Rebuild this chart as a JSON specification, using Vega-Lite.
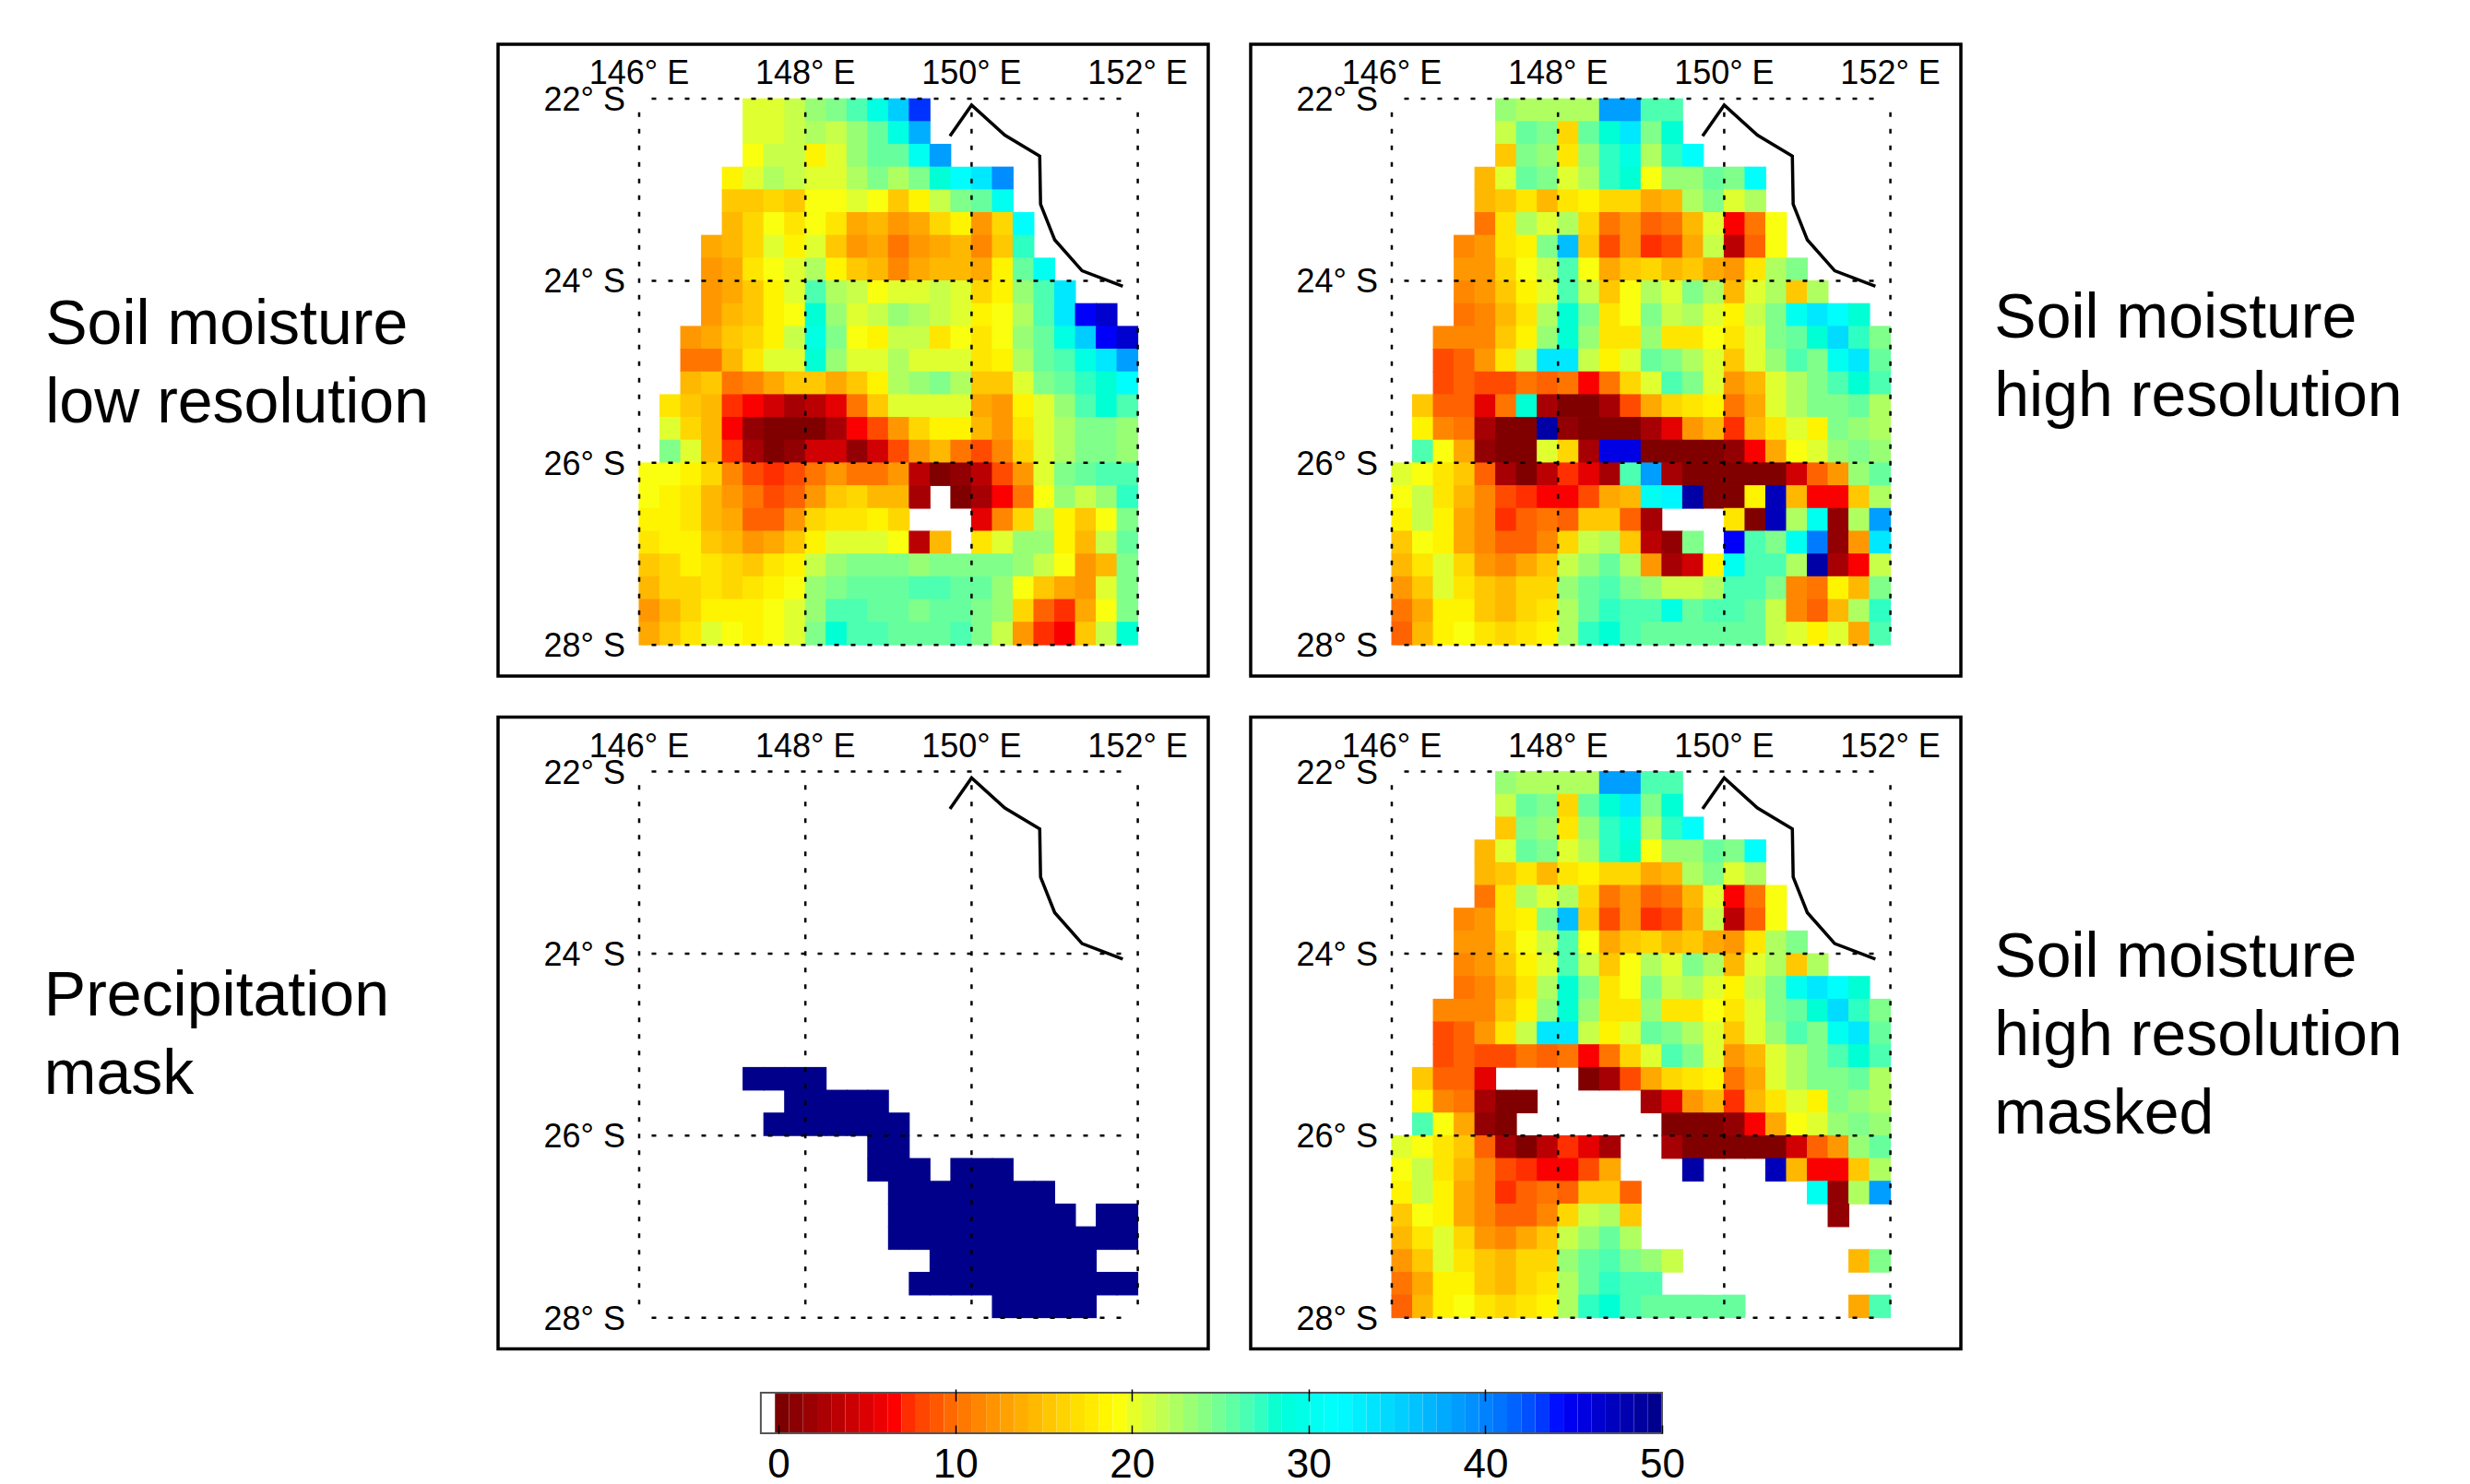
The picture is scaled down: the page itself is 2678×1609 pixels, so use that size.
{
"$schema":"https://vega.github.io/schema/vega-lite/v6.json",
"background":"white",
"padding":{"left":46,"top":46,"right":0,"bottom":0},
"spacing":40.5,
"config":{"font":"Liberation Sans","view":{"stroke":"black","strokeWidth":3.5}},
"datasets":{
"gv":[{"lon":146,"lat":-22.15,"lat2":-27.95},{"lon":148,"lat":-22.15,"lat2":-27.95},{"lon":150,"lat":-22.15,"lat2":-27.95},{"lon":152,"lat":-22.15,"lat2":-27.95}],
"gh":[{"lat":-22,"lon":146.15,"lon2":151.92},{"lat":-24,"lon":146.15,"lon2":151.92},{"lat":-26,"lon":146.15,"lon2":151.92},{"lat":-28,"lon":146.15,"lon2":151.92}],
"tx":[{"lon":146,"lat":-22,"t":"146° E"},{"lon":148,"lat":-22,"t":"148° E"},{"lon":150,"lat":-22,"t":"150° E"},{"lon":152,"lat":-22,"t":"152° E"}],
"ty":[{"lon":146,"lat":-22,"t":"22° S"},{"lon":146,"lat":-24,"t":"24° S"},{"lon":146,"lat":-26,"t":"26° S"},{"lon":146,"lat":-28,"t":"28° S"}],
"coast":[{"lon":149.74,"lat":-22.41},{"lon":150.0,"lat":-22.07},{"lon":150.4,"lat":-22.4},{"lon":150.82,"lat":-22.63},{"lon":150.83,"lat":-23.16},{"lon":151.0,"lat":-23.55},{"lon":151.33,"lat":-23.89},{"lon":151.82,"lat":-24.06}],
"bar":[{"v":-0.2,"w":0.59},{"v":0.59,"w":1.39},{"v":1.39,"w":2.19},{"v":2.19,"w":2.98},{"v":2.98,"w":3.78},{"v":3.78,"w":4.58},{"v":4.58,"w":5.38},{"v":5.38,"w":6.17},{"v":6.17,"w":6.97},{"v":6.97,"w":7.77},{"v":7.77,"w":8.56},{"v":8.56,"w":9.36},{"v":9.36,"w":10.16},{"v":10.16,"w":10.95},{"v":10.95,"w":11.75},{"v":11.75,"w":12.55},{"v":12.55,"w":13.34},{"v":13.34,"w":14.14},{"v":14.14,"w":14.94},{"v":14.94,"w":15.73},{"v":15.73,"w":16.53},{"v":16.53,"w":17.33},{"v":17.33,"w":18.13},{"v":18.13,"w":18.92},{"v":18.92,"w":19.72},{"v":19.72,"w":20.52},{"v":20.52,"w":21.31},{"v":21.31,"w":22.11},{"v":22.11,"w":22.91},{"v":22.91,"w":23.7},{"v":23.7,"w":24.5},{"v":24.5,"w":25.3},{"v":25.3,"w":26.09},{"v":26.09,"w":26.89},{"v":26.89,"w":27.69},{"v":27.69,"w":28.48},{"v":28.48,"w":29.28},{"v":29.28,"w":30.08},{"v":30.08,"w":30.88},{"v":30.88,"w":31.67},{"v":31.67,"w":32.47},{"v":32.47,"w":33.27},{"v":33.27,"w":34.06},{"v":34.06,"w":34.86},{"v":34.86,"w":35.66},{"v":35.66,"w":36.45},{"v":36.45,"w":37.25},{"v":37.25,"w":38.05},{"v":38.05,"w":38.84},{"v":38.84,"w":39.64},{"v":39.64,"w":40.44},{"v":40.44,"w":41.23},{"v":41.23,"w":42.03},{"v":42.03,"w":42.83},{"v":42.83,"w":43.63},{"v":43.63,"w":44.42},{"v":44.42,"w":45.22},{"v":45.22,"w":46.02},{"v":46.02,"w":46.81},{"v":46.81,"w":47.61},{"v":47.61,"w":48.41},{"v":48.41,"w":49.2},{"v":49.2,"w":50}],
"cells":[
{"lon":147.375,"lat":-22.125,"a":20,"b":23},{"lon":147.625,"lat":-22.125,"a":20,"b":22},{"lon":147.875,"lat":-22.125,"a":21,"b":22},{"lon":148.125,"lat":-22.125,"a":23,"b":22},{"lon":148.375,"lat":-22.125,"a":24,"b":22},{"lon":148.625,"lat":-22.125,"a":26,"b":38},{"lon":148.875,"lat":-22.125,"a":29,"b":38},{"lon":149.125,"lat":-22.125,"a":35,"b":26},{"lon":149.375,"lat":-22.125,"a":43,"b":26},
{"lon":147.375,"lat":-22.375,"a":20,"b":21},{"lon":147.625,"lat":-22.375,"a":20,"b":25},{"lon":147.875,"lat":-22.375,"a":21,"b":24},{"lon":148.125,"lat":-22.375,"a":22,"b":16},{"lon":148.375,"lat":-22.375,"a":21,"b":25},{"lon":148.625,"lat":-22.375,"a":23,"b":28},{"lon":148.875,"lat":-22.375,"a":25,"b":33},{"lon":149.125,"lat":-22.375,"a":29,"b":24},{"lon":149.375,"lat":-22.375,"a":37,"b":28},
{"lon":147.375,"lat":-22.625,"a":19,"b":15},{"lon":147.625,"lat":-22.625,"a":21,"b":24},{"lon":147.875,"lat":-22.625,"a":21,"b":23},{"lon":148.125,"lat":-22.625,"a":18,"b":17},{"lon":148.375,"lat":-22.625,"a":20,"b":23},{"lon":148.625,"lat":-22.625,"a":23,"b":27},{"lon":148.875,"lat":-22.625,"a":25,"b":29},{"lon":149.125,"lat":-22.625,"a":25,"b":22},{"lon":149.375,"lat":-22.625,"a":30,"b":27},{"lon":149.625,"lat":-22.625,"a":38,"b":31},
{"lon":147.125,"lat":-22.875,"a":18,"b":14},{"lon":147.375,"lat":-22.875,"a":20,"b":20},{"lon":147.625,"lat":-22.875,"a":22,"b":25},{"lon":147.875,"lat":-22.875,"a":21,"b":24},{"lon":148.125,"lat":-22.875,"a":20,"b":20},{"lon":148.375,"lat":-22.875,"a":20,"b":22},{"lon":148.625,"lat":-22.875,"a":22,"b":27},{"lon":148.875,"lat":-22.875,"a":24,"b":28},{"lon":149.125,"lat":-22.875,"a":22,"b":19},{"lon":149.375,"lat":-22.875,"a":24,"b":23},{"lon":149.625,"lat":-22.875,"a":28,"b":23},{"lon":149.875,"lat":-22.875,"a":31,"b":25},{"lon":150.125,"lat":-22.875,"a":33,"b":24},{"lon":150.375,"lat":-22.875,"a":39,"b":31},
{"lon":147.125,"lat":-23.125,"a":15,"b":14},{"lon":147.375,"lat":-23.125,"a":15,"b":15},{"lon":147.625,"lat":-23.125,"a":16,"b":17},{"lon":147.875,"lat":-23.125,"a":15,"b":14},{"lon":148.125,"lat":-23.125,"a":19,"b":17},{"lon":148.375,"lat":-23.125,"a":19,"b":18},{"lon":148.625,"lat":-23.125,"a":20,"b":16},{"lon":148.875,"lat":-23.125,"a":19,"b":16},{"lon":149.125,"lat":-23.125,"a":15,"b":13},{"lon":149.375,"lat":-23.125,"a":18,"b":14},{"lon":149.625,"lat":-23.125,"a":21,"b":22},{"lon":149.875,"lat":-23.125,"a":24,"b":24},{"lon":150.125,"lat":-23.125,"a":25,"b":20},{"lon":150.375,"lat":-23.125,"a":30,"b":22},
{"lon":147.125,"lat":-23.375,"a":14,"b":10},{"lon":147.375,"lat":-23.375,"a":16,"b":17},{"lon":147.625,"lat":-23.375,"a":19,"b":22},{"lon":147.875,"lat":-23.375,"a":17,"b":20},{"lon":148.125,"lat":-23.375,"a":19,"b":22},{"lon":148.375,"lat":-23.375,"a":17,"b":16},{"lon":148.625,"lat":-23.375,"a":13,"b":10},{"lon":148.875,"lat":-23.375,"a":14,"b":12},{"lon":149.125,"lat":-23.375,"a":12,"b":9},{"lon":149.375,"lat":-23.375,"a":13,"b":10},{"lon":149.625,"lat":-23.375,"a":16,"b":14},{"lon":149.875,"lat":-23.375,"a":18,"b":20},{"lon":150.125,"lat":-23.375,"a":12,"b":6},{"lon":150.375,"lat":-23.375,"a":16,"b":10},{"lon":150.625,"lat":-23.375,"a":31,"b":19},
{"lon":146.875,"lat":-23.625,"a":13,"b":11},{"lon":147.125,"lat":-23.625,"a":14,"b":12},{"lon":147.375,"lat":-23.625,"a":16,"b":17},{"lon":147.625,"lat":-23.625,"a":20,"b":18},{"lon":147.875,"lat":-23.625,"a":18,"b":24},{"lon":148.125,"lat":-23.625,"a":20,"b":36},{"lon":148.375,"lat":-23.625,"a":15,"b":15},{"lon":148.625,"lat":-23.625,"a":12,"b":8},{"lon":148.875,"lat":-23.625,"a":13,"b":12},{"lon":149.125,"lat":-23.625,"a":10,"b":7},{"lon":149.375,"lat":-23.625,"a":12,"b":8},{"lon":149.625,"lat":-23.625,"a":13,"b":13},{"lon":149.875,"lat":-23.625,"a":14,"b":21},{"lon":150.125,"lat":-23.625,"a":11,"b":3},{"lon":150.375,"lat":-23.625,"a":15,"b":9},{"lon":150.625,"lat":-23.625,"a":27,"b":19},
{"lon":146.875,"lat":-23.875,"a":12,"b":12},{"lon":147.125,"lat":-23.875,"a":13,"b":12},{"lon":147.375,"lat":-23.875,"a":17,"b":16},{"lon":147.625,"lat":-23.875,"a":19,"b":19},{"lon":147.875,"lat":-23.875,"a":20,"b":21},{"lon":148.125,"lat":-23.875,"a":22,"b":26},{"lon":148.375,"lat":-23.875,"a":18,"b":19},{"lon":148.625,"lat":-23.875,"a":15,"b":13},{"lon":148.875,"lat":-23.875,"a":14,"b":15},{"lon":149.125,"lat":-23.875,"a":11,"b":16},{"lon":149.375,"lat":-23.875,"a":13,"b":14},{"lon":149.625,"lat":-23.875,"a":14,"b":15},{"lon":149.875,"lat":-23.875,"a":14,"b":13},{"lon":150.125,"lat":-23.875,"a":13,"b":12},{"lon":150.375,"lat":-23.875,"a":18,"b":17},{"lon":150.625,"lat":-23.875,"a":25,"b":22},{"lon":150.875,"lat":-23.875,"a":30,"b":24},
{"lon":146.875,"lat":-24.125,"a":12,"b":11},{"lon":147.125,"lat":-24.125,"a":13,"b":12},{"lon":147.375,"lat":-24.125,"a":15,"b":15},{"lon":147.625,"lat":-24.125,"a":18,"b":18},{"lon":147.875,"lat":-24.125,"a":20,"b":20},{"lon":148.125,"lat":-24.125,"a":26,"b":26},{"lon":148.375,"lat":-24.125,"a":22,"b":21},{"lon":148.625,"lat":-24.125,"a":21,"b":15},{"lon":148.875,"lat":-24.125,"a":19,"b":19},{"lon":149.125,"lat":-24.125,"a":20,"b":22},{"lon":149.375,"lat":-24.125,"a":20,"b":20},{"lon":149.625,"lat":-24.125,"a":21,"b":24},{"lon":149.875,"lat":-24.125,"a":20,"b":22},{"lon":150.125,"lat":-24.125,"a":16,"b":14},{"lon":150.375,"lat":-24.125,"a":18,"b":20},{"lon":150.625,"lat":-24.125,"a":23,"b":22},{"lon":150.875,"lat":-24.125,"a":26,"b":15},{"lon":151.125,"lat":-24.125,"a":33,"b":22},
{"lon":146.875,"lat":-24.375,"a":12,"b":10},{"lon":147.125,"lat":-24.375,"a":14,"b":11},{"lon":147.375,"lat":-24.375,"a":15,"b":14},{"lon":147.625,"lat":-24.375,"a":18,"b":17},{"lon":147.875,"lat":-24.375,"a":19,"b":22},{"lon":148.125,"lat":-24.375,"a":28,"b":28},{"lon":148.375,"lat":-24.375,"a":23,"b":24},{"lon":148.625,"lat":-24.375,"a":20,"b":17},{"lon":148.875,"lat":-24.375,"a":21,"b":19},{"lon":149.125,"lat":-24.375,"a":23,"b":24},{"lon":149.375,"lat":-24.375,"a":22,"b":21},{"lon":149.625,"lat":-24.375,"a":21,"b":22},{"lon":149.875,"lat":-24.375,"a":20,"b":20},{"lon":150.125,"lat":-24.375,"a":18,"b":18},{"lon":150.375,"lat":-24.375,"a":19,"b":21},{"lon":150.625,"lat":-24.375,"a":22,"b":24},{"lon":150.875,"lat":-24.375,"a":26,"b":30},{"lon":151.125,"lat":-24.375,"a":33,"b":33},{"lon":151.375,"lat":-24.375,"a":44,"b":31},{"lon":151.625,"lat":-24.375,"a":46,"b":28},
{"lon":146.625,"lat":-24.625,"a":12,"b":11},{"lon":146.875,"lat":-24.625,"a":13,"b":11},{"lon":147.125,"lat":-24.625,"a":15,"b":11},{"lon":147.375,"lat":-24.625,"a":16,"b":15},{"lon":147.625,"lat":-24.625,"a":18,"b":18},{"lon":147.875,"lat":-24.625,"a":21,"b":23},{"lon":148.125,"lat":-24.625,"a":29,"b":28},{"lon":148.375,"lat":-24.625,"a":24,"b":23},{"lon":148.625,"lat":-24.625,"a":19,"b":17},{"lon":148.875,"lat":-24.625,"a":18,"b":17},{"lon":149.125,"lat":-24.625,"a":21,"b":23},{"lon":149.375,"lat":-24.625,"a":21,"b":17},{"lon":149.625,"lat":-24.625,"a":17,"b":17},{"lon":149.875,"lat":-24.625,"a":19,"b":19},{"lon":150.125,"lat":-24.625,"a":17,"b":17},{"lon":150.375,"lat":-24.625,"a":19,"b":20},{"lon":150.625,"lat":-24.625,"a":23,"b":24},{"lon":150.875,"lat":-24.625,"a":25,"b":25},{"lon":151.125,"lat":-24.625,"a":29,"b":28},{"lon":151.375,"lat":-24.625,"a":35,"b":34},{"lon":151.625,"lat":-24.625,"a":44,"b":27},{"lon":151.875,"lat":-24.625,"a":46,"b":24},
{"lon":146.625,"lat":-24.875,"a":10,"b":8},{"lon":146.875,"lat":-24.875,"a":10,"b":9},{"lon":147.125,"lat":-24.875,"a":14,"b":12},{"lon":147.375,"lat":-24.875,"a":17,"b":17},{"lon":147.625,"lat":-24.875,"a":20,"b":21},{"lon":147.875,"lat":-24.875,"a":20,"b":33},{"lon":148.125,"lat":-24.875,"a":28,"b":33},{"lon":148.375,"lat":-24.875,"a":23,"b":21},{"lon":148.625,"lat":-24.875,"a":20,"b":18},{"lon":148.875,"lat":-24.875,"a":20,"b":20},{"lon":149.125,"lat":-24.875,"a":22,"b":25},{"lon":149.375,"lat":-24.875,"a":20,"b":24},{"lon":149.625,"lat":-24.875,"a":20,"b":22},{"lon":149.875,"lat":-24.875,"a":20,"b":20},{"lon":150.125,"lat":-24.875,"a":17,"b":15},{"lon":150.375,"lat":-24.875,"a":18,"b":20},{"lon":150.625,"lat":-24.875,"a":22,"b":23},{"lon":150.875,"lat":-24.875,"a":25,"b":26},{"lon":151.125,"lat":-24.875,"a":26,"b":24},{"lon":151.375,"lat":-24.875,"a":29,"b":30},{"lon":151.625,"lat":-24.875,"a":33,"b":33},{"lon":151.875,"lat":-24.875,"a":38,"b":25},
{"lon":146.625,"lat":-25.125,"a":14,"b":8},{"lon":146.875,"lat":-25.125,"a":15,"b":9},{"lon":147.125,"lat":-25.125,"a":10,"b":8},{"lon":147.375,"lat":-25.125,"a":11,"b":8},{"lon":147.625,"lat":-25.125,"a":13,"b":10},{"lon":147.875,"lat":-25.125,"a":15,"b":9},{"lon":148.125,"lat":-25.125,"a":15,"b":10},{"lon":148.375,"lat":-25.125,"a":13,"b":6},{"lon":148.625,"lat":-25.125,"a":15,"b":10},{"lon":148.875,"lat":-25.125,"a":18,"b":16},{"lon":149.125,"lat":-25.125,"a":22,"b":20},{"lon":149.375,"lat":-25.125,"a":23,"b":26},{"lon":149.625,"lat":-25.125,"a":24,"b":24},{"lon":149.875,"lat":-25.125,"a":22,"b":20},{"lon":150.125,"lat":-25.125,"a":15,"b":12},{"lon":150.375,"lat":-25.125,"a":15,"b":14},{"lon":150.625,"lat":-25.125,"a":20,"b":20},{"lon":150.875,"lat":-25.125,"a":24,"b":22},{"lon":151.125,"lat":-25.125,"a":25,"b":24},{"lon":151.375,"lat":-25.125,"a":27,"b":26},{"lon":151.625,"lat":-25.125,"a":28,"b":28},{"lon":151.875,"lat":-25.125,"a":31,"b":26},
{"lon":146.375,"lat":-25.375,"a":17,"b":15},{"lon":146.625,"lat":-25.375,"a":15,"b":9},{"lon":146.875,"lat":-25.375,"a":14,"b":9},{"lon":147.125,"lat":-25.375,"a":7,"b":5},{"lon":147.375,"lat":-25.375,"a":6,"b":10,"m":1},{"lon":147.625,"lat":-25.375,"a":4,"b":28,"m":1},{"lon":147.875,"lat":-25.375,"a":2,"b":2,"m":1},{"lon":148.125,"lat":-25.375,"a":3,"b":0,"m":1},{"lon":148.375,"lat":-25.375,"a":5,"b":0},{"lon":148.625,"lat":-25.375,"a":10,"b":2},{"lon":148.875,"lat":-25.375,"a":15,"b":8},{"lon":149.125,"lat":-25.375,"a":20,"b":13},{"lon":149.375,"lat":-25.375,"a":20,"b":16},{"lon":149.625,"lat":-25.375,"a":20,"b":17},{"lon":149.875,"lat":-25.375,"a":20,"b":18},{"lon":150.125,"lat":-25.375,"a":13,"b":10},{"lon":150.375,"lat":-25.375,"a":12,"b":13},{"lon":150.625,"lat":-25.375,"a":18,"b":20},{"lon":150.875,"lat":-25.375,"a":20,"b":22},{"lon":151.125,"lat":-25.375,"a":23,"b":24},{"lon":151.375,"lat":-25.375,"a":26,"b":24},{"lon":151.625,"lat":-25.375,"a":28,"b":25},{"lon":151.875,"lat":-25.375,"a":26,"b":22},
{"lon":146.375,"lat":-25.625,"a":20,"b":18},{"lon":146.625,"lat":-25.625,"a":16,"b":11},{"lon":146.875,"lat":-25.625,"a":14,"b":10},{"lon":147.125,"lat":-25.625,"a":6,"b":2},{"lon":147.375,"lat":-25.625,"a":1,"b":0},{"lon":147.625,"lat":-25.625,"a":0,"b":0},{"lon":147.875,"lat":-25.625,"a":0,"b":48,"m":1},{"lon":148.125,"lat":-25.625,"a":0,"b":1,"m":1},{"lon":148.375,"lat":-25.625,"a":2,"b":0,"m":1},{"lon":148.625,"lat":-25.625,"a":6,"b":0,"m":1},{"lon":148.875,"lat":-25.625,"a":8,"b":0,"m":1},{"lon":149.125,"lat":-25.625,"a":12,"b":2},{"lon":149.375,"lat":-25.625,"a":16,"b":5},{"lon":149.625,"lat":-25.625,"a":18,"b":12},{"lon":149.875,"lat":-25.625,"a":18,"b":14},{"lon":150.125,"lat":-25.625,"a":14,"b":7},{"lon":150.375,"lat":-25.625,"a":12,"b":14},{"lon":150.625,"lat":-25.625,"a":17,"b":17},{"lon":150.875,"lat":-25.625,"a":20,"b":20},{"lon":151.125,"lat":-25.625,"a":22,"b":18},{"lon":151.375,"lat":-25.625,"a":24,"b":24},{"lon":151.625,"lat":-25.625,"a":24,"b":23},{"lon":151.875,"lat":-25.625,"a":23,"b":22},
{"lon":146.375,"lat":-25.875,"a":24,"b":26},{"lon":146.625,"lat":-25.875,"a":20,"b":19},{"lon":146.875,"lat":-25.875,"a":14,"b":13},{"lon":147.125,"lat":-25.875,"a":7,"b":1},{"lon":147.375,"lat":-25.875,"a":2,"b":0},{"lon":147.625,"lat":-25.875,"a":0,"b":0,"m":1},{"lon":147.875,"lat":-25.875,"a":1,"b":20,"m":1},{"lon":148.125,"lat":-25.875,"a":4,"b":16,"m":1},{"lon":148.375,"lat":-25.875,"a":4,"b":2,"m":1},{"lon":148.625,"lat":-25.875,"a":1,"b":45,"m":1},{"lon":148.875,"lat":-25.875,"a":4,"b":45,"m":1},{"lon":149.125,"lat":-25.875,"a":8,"b":0,"m":1},{"lon":149.375,"lat":-25.875,"a":12,"b":0},{"lon":149.625,"lat":-25.875,"a":14,"b":0},{"lon":149.875,"lat":-25.875,"a":10,"b":0},{"lon":150.125,"lat":-25.875,"a":8,"b":1},{"lon":150.375,"lat":-25.875,"a":11,"b":6},{"lon":150.625,"lat":-25.875,"a":16,"b":13},{"lon":150.875,"lat":-25.875,"a":20,"b":19},{"lon":151.125,"lat":-25.875,"a":22,"b":20},{"lon":151.375,"lat":-25.875,"a":24,"b":23},{"lon":151.625,"lat":-25.875,"a":24,"b":24},{"lon":151.875,"lat":-25.875,"a":23,"b":23},
{"lon":146.125,"lat":-26.125,"a":19,"b":20},{"lon":146.375,"lat":-26.125,"a":19,"b":19},{"lon":146.625,"lat":-26.125,"a":18,"b":17},{"lon":146.875,"lat":-26.125,"a":16,"b":15},{"lon":147.125,"lat":-26.125,"a":11,"b":9},{"lon":147.375,"lat":-26.125,"a":8,"b":2},{"lon":147.625,"lat":-26.125,"a":7,"b":0},{"lon":147.875,"lat":-26.125,"a":8,"b":3},{"lon":148.125,"lat":-26.125,"a":10,"b":7},{"lon":148.375,"lat":-26.125,"a":12,"b":5},{"lon":148.625,"lat":-26.125,"a":10,"b":2},{"lon":148.875,"lat":-26.125,"a":10,"b":26,"m":1},{"lon":149.125,"lat":-26.125,"a":12,"b":38,"m":1},{"lon":149.375,"lat":-26.125,"a":3,"b":2},{"lon":149.625,"lat":-26.125,"a":0,"b":0},{"lon":149.875,"lat":-26.125,"a":1,"b":0},{"lon":150.125,"lat":-26.125,"a":3,"b":0},{"lon":150.375,"lat":-26.125,"a":8,"b":0},{"lon":150.625,"lat":-26.125,"a":12,"b":0},{"lon":150.875,"lat":-26.125,"a":20,"b":4},{"lon":151.125,"lat":-26.125,"a":24,"b":9},{"lon":151.375,"lat":-26.125,"a":25,"b":12},{"lon":151.625,"lat":-26.125,"a":26,"b":23},{"lon":151.875,"lat":-26.125,"a":26,"b":25},
{"lon":146.125,"lat":-26.375,"a":19,"b":19},{"lon":146.375,"lat":-26.375,"a":18,"b":21},{"lon":146.625,"lat":-26.375,"a":17,"b":17},{"lon":146.875,"lat":-26.375,"a":14,"b":14},{"lon":147.125,"lat":-26.375,"a":12,"b":11},{"lon":147.375,"lat":-26.375,"a":10,"b":8},{"lon":147.625,"lat":-26.375,"a":8,"b":7},{"lon":147.875,"lat":-26.375,"a":9,"b":6},{"lon":148.125,"lat":-26.375,"a":12,"b":6},{"lon":148.375,"lat":-26.375,"a":15,"b":8},{"lon":148.625,"lat":-26.375,"a":16,"b":13},{"lon":148.875,"lat":-26.375,"a":14,"b":14,"m":1},{"lon":149.125,"lat":-26.375,"a":14,"b":30,"m":1},{"lon":149.375,"lat":-26.375,"a":2,"b":32,"m":1},{"lon":149.625,"lat":-26.375,"b":48},{"lon":149.875,"lat":-26.375,"a":0,"b":0,"m":1},{"lon":150.125,"lat":-26.375,"a":2,"b":0,"m":1},{"lon":150.375,"lat":-26.375,"a":6,"b":18,"m":1},{"lon":150.625,"lat":-26.375,"a":10,"b":47},{"lon":150.875,"lat":-26.375,"a":19,"b":14},{"lon":151.125,"lat":-26.375,"a":23,"b":6},{"lon":151.375,"lat":-26.375,"a":21,"b":6},{"lon":151.625,"lat":-26.375,"a":23,"b":15},{"lon":151.875,"lat":-26.375,"a":27,"b":22},
{"lon":146.125,"lat":-26.625,"a":18,"b":18},{"lon":146.375,"lat":-26.625,"a":18,"b":21},{"lon":146.625,"lat":-26.625,"a":17,"b":18},{"lon":146.875,"lat":-26.625,"a":14,"b":13},{"lon":147.125,"lat":-26.625,"a":13,"b":11},{"lon":147.375,"lat":-26.625,"a":9,"b":7},{"lon":147.625,"lat":-26.625,"a":9,"b":9},{"lon":147.875,"lat":-26.625,"a":12,"b":10},{"lon":148.125,"lat":-26.625,"a":16,"b":9},{"lon":148.375,"lat":-26.625,"a":17,"b":15},{"lon":148.625,"lat":-26.625,"a":17,"b":15},{"lon":148.875,"lat":-26.625,"a":18,"b":9},{"lon":149.125,"lat":-26.625,"a":16,"b":2,"m":1},{"lon":149.875,"lat":-26.625,"m":1},{"lon":149.375,"lat":-26.625,"m":1},{"lon":149.625,"lat":-26.625,"m":1},{"lon":150.125,"lat":-26.625,"a":5,"b":17,"m":1},{"lon":150.375,"lat":-26.625,"a":11,"b":0,"m":1},{"lon":150.625,"lat":-26.625,"a":16,"b":47,"m":1},{"lon":150.875,"lat":-26.625,"a":22,"b":22,"m":1},{"lon":151.125,"lat":-26.625,"a":18,"b":30},{"lon":151.375,"lat":-26.625,"a":15,"b":1},{"lon":151.625,"lat":-26.625,"a":19,"b":22},{"lon":151.875,"lat":-26.625,"a":24,"b":38},
{"lon":146.125,"lat":-26.875,"a":17,"b":15},{"lon":146.375,"lat":-26.875,"a":18,"b":19},{"lon":146.625,"lat":-26.875,"a":18,"b":18},{"lon":146.875,"lat":-26.875,"a":15,"b":13},{"lon":147.125,"lat":-26.875,"a":14,"b":11},{"lon":147.375,"lat":-26.875,"a":12,"b":9},{"lon":147.625,"lat":-26.875,"a":13,"b":9},{"lon":147.875,"lat":-26.875,"a":15,"b":11},{"lon":148.125,"lat":-26.875,"a":18,"b":16},{"lon":148.375,"lat":-26.875,"a":20,"b":21},{"lon":148.625,"lat":-26.875,"a":20,"b":22},{"lon":148.875,"lat":-26.875,"a":20,"b":15},{"lon":149.125,"lat":-26.875,"a":19,"b":3,"m":1},{"lon":149.375,"lat":-26.875,"a":3,"b":1,"m":1},{"lon":149.625,"lat":-26.875,"a":14,"b":24,"m":1},{"lon":149.875,"lat":-26.875,"m":1},{"lon":150.125,"lat":-26.875,"a":17,"b":44,"m":1},{"lon":150.375,"lat":-26.875,"a":20,"b":26,"m":1},{"lon":150.625,"lat":-26.875,"a":23,"b":24,"m":1},{"lon":150.875,"lat":-26.875,"a":23,"b":30,"m":1},{"lon":151.125,"lat":-26.875,"a":18,"b":40,"m":1},{"lon":151.375,"lat":-26.875,"a":14,"b":1},{"lon":151.625,"lat":-26.875,"a":21,"b":12,"m":1},{"lon":151.875,"lat":-26.875,"a":25,"b":33,"m":1},
{"lon":146.125,"lat":-27.125,"a":15,"b":14},{"lon":146.375,"lat":-27.125,"a":16,"b":17},{"lon":146.625,"lat":-27.125,"a":18,"b":20},{"lon":146.875,"lat":-27.125,"a":17,"b":16},{"lon":147.125,"lat":-27.125,"a":16,"b":12},{"lon":147.375,"lat":-27.125,"a":15,"b":11},{"lon":147.625,"lat":-27.125,"a":17,"b":13},{"lon":147.875,"lat":-27.125,"a":18,"b":15},{"lon":148.125,"lat":-27.125,"a":21,"b":21},{"lon":148.375,"lat":-27.125,"a":23,"b":23},{"lon":148.625,"lat":-27.125,"a":24,"b":25},{"lon":148.875,"lat":-27.125,"a":24,"b":22},{"lon":149.125,"lat":-27.125,"a":24,"b":12,"m":1},{"lon":149.375,"lat":-27.125,"a":23,"b":2,"m":1},{"lon":149.625,"lat":-27.125,"a":24,"b":4,"m":1},{"lon":149.875,"lat":-27.125,"a":24,"b":18,"m":1},{"lon":150.125,"lat":-27.125,"a":24,"b":30,"m":1},{"lon":150.375,"lat":-27.125,"a":24,"b":26,"m":1},{"lon":150.625,"lat":-27.125,"a":23,"b":26,"m":1},{"lon":150.875,"lat":-27.125,"a":21,"b":22,"m":1},{"lon":151.125,"lat":-27.125,"a":19,"b":48,"m":1},{"lon":151.375,"lat":-27.125,"a":12,"b":2,"m":1},{"lon":151.625,"lat":-27.125,"a":14,"b":6,"m":1},{"lon":151.875,"lat":-27.125,"a":24,"b":21,"m":1},
{"lon":146.125,"lat":-27.375,"a":14,"b":12},{"lon":146.375,"lat":-27.375,"a":16,"b":15},{"lon":146.625,"lat":-27.375,"a":16,"b":20},{"lon":146.875,"lat":-27.375,"a":17,"b":17},{"lon":147.125,"lat":-27.375,"a":16,"b":15},{"lon":147.375,"lat":-27.375,"a":17,"b":14},{"lon":147.625,"lat":-27.375,"a":18,"b":16},{"lon":147.875,"lat":-27.375,"a":19,"b":16},{"lon":148.125,"lat":-27.375,"a":23,"b":23},{"lon":148.375,"lat":-27.375,"a":24,"b":25},{"lon":148.625,"lat":-27.375,"a":25,"b":26},{"lon":148.875,"lat":-27.375,"a":25,"b":24},{"lon":149.125,"lat":-27.375,"a":25,"b":23},{"lon":149.375,"lat":-27.375,"a":26,"b":21},{"lon":149.625,"lat":-27.375,"a":26,"b":21,"m":1},{"lon":149.875,"lat":-27.375,"a":25,"b":22,"m":1},{"lon":150.125,"lat":-27.375,"a":25,"b":26,"m":1},{"lon":150.375,"lat":-27.375,"a":23,"b":26,"m":1},{"lon":150.625,"lat":-27.375,"a":19,"b":24,"m":1},{"lon":150.875,"lat":-27.375,"a":15,"b":11,"m":1},{"lon":151.125,"lat":-27.375,"a":13,"b":10,"m":1},{"lon":151.375,"lat":-27.375,"a":12,"b":18,"m":1},{"lon":151.625,"lat":-27.375,"a":20,"b":14},{"lon":151.875,"lat":-27.375,"a":24,"b":24},
{"lon":146.125,"lat":-27.625,"a":12,"b":10},{"lon":146.375,"lat":-27.625,"a":14,"b":13},{"lon":146.625,"lat":-27.625,"a":16,"b":18},{"lon":146.875,"lat":-27.625,"a":18,"b":18},{"lon":147.125,"lat":-27.625,"a":18,"b":15},{"lon":147.375,"lat":-27.625,"a":18,"b":14},{"lon":147.625,"lat":-27.625,"a":19,"b":16},{"lon":147.875,"lat":-27.625,"a":20,"b":17},{"lon":148.125,"lat":-27.625,"a":23,"b":22},{"lon":148.375,"lat":-27.625,"a":26,"b":25},{"lon":148.625,"lat":-27.625,"a":26,"b":27},{"lon":148.875,"lat":-27.625,"a":25,"b":26},{"lon":149.125,"lat":-27.625,"a":25,"b":26},{"lon":149.375,"lat":-27.625,"a":24,"b":29,"m":1},{"lon":149.625,"lat":-27.625,"a":25,"b":25,"m":1},{"lon":149.875,"lat":-27.625,"a":25,"b":26,"m":1},{"lon":150.125,"lat":-27.625,"a":24,"b":26,"m":1},{"lon":150.375,"lat":-27.625,"a":23,"b":25,"m":1},{"lon":150.625,"lat":-27.625,"a":16,"b":21,"m":1},{"lon":150.875,"lat":-27.625,"a":9,"b":11,"m":1},{"lon":151.125,"lat":-27.625,"a":7,"b":9,"m":1},{"lon":151.375,"lat":-27.625,"a":13,"b":14,"m":1},{"lon":151.625,"lat":-27.625,"a":19,"b":22,"m":1},{"lon":151.875,"lat":-27.625,"a":24,"b":27,"m":1},
{"lon":146.125,"lat":-27.875,"a":13,"b":9},{"lon":146.375,"lat":-27.875,"a":15,"b":14},{"lon":146.625,"lat":-27.875,"a":17,"b":18},{"lon":146.875,"lat":-27.875,"a":20,"b":19},{"lon":147.125,"lat":-27.875,"a":19,"b":17},{"lon":147.375,"lat":-27.875,"a":18,"b":16},{"lon":147.625,"lat":-27.875,"a":19,"b":17},{"lon":147.875,"lat":-27.875,"a":20,"b":18},{"lon":148.125,"lat":-27.875,"a":24,"b":22},{"lon":148.375,"lat":-27.875,"a":28,"b":27},{"lon":148.625,"lat":-27.875,"a":26,"b":28},{"lon":148.875,"lat":-27.875,"a":26,"b":26},{"lon":149.125,"lat":-27.875,"a":25,"b":25},{"lon":149.375,"lat":-27.875,"a":25,"b":25},{"lon":149.625,"lat":-27.875,"a":25,"b":25},{"lon":149.875,"lat":-27.875,"a":26,"b":25},{"lon":150.125,"lat":-27.875,"a":24,"b":25},{"lon":150.375,"lat":-27.875,"a":21,"b":25,"m":1},{"lon":150.625,"lat":-27.875,"a":12,"b":21,"m":1},{"lon":150.875,"lat":-27.875,"a":7,"b":20,"m":1},{"lon":151.125,"lat":-27.875,"a":6,"b":18,"m":1},{"lon":151.375,"lat":-27.875,"a":15,"b":20,"m":1},{"lon":151.625,"lat":-27.875,"a":21,"b":13},{"lon":151.875,"lat":-27.875,"a":28,"b":26}
]
},
"vconcat":[
{"hconcat":[
{"width":770,"height":685,
"title":{"text":["Soil moisture","low resolution"],"orient":"left","angle":0,"align":"left","baseline":"middle","anchor":"middle","offset":75,"fontSize":68,"lineHeight":85,"fontWeight":"normal","dy":-38},
"encoding":{"x":{"field":"lon","type":"quantitative","axis":null,"scale":{"domain":[144.302,152.848],"nice":false,"zero":false}},"y":{"field":"lat","type":"quantitative","axis":null,"scale":{"domain":[-28.342,-21.402],"nice":false,"zero":false}}},
"layer":[
{"data":{"name":"cells"},"mark":{"type":"rect","width":23.5,"height":25.5},"encoding":{"color":{"field":"a","type":"quantitative","legend":null,"scale":{"domain":[0,6.25,18.75,31.25,43.75,50],"range":["#800000","#ff0000","#ffff00","#00ffff","#0000ff","#000080"]}}}},
{"data":{"name":"gv"},"mark":{"type":"rule","color":"black","strokeWidth":2.5,"strokeDash":[5,13]},"encoding":{"y2":{"field":"lat2"}}},
{"data":{"name":"gh"},"mark":{"type":"rule","color":"black","strokeWidth":2.5,"strokeDash":[5,13]},"encoding":{"x2":{"field":"lon2"}}},
{"data":{"name":"coast"},"mark":{"type":"line","color":"black","strokeWidth":3.5},"encoding":{"order":{"field":"lon"}}},
{"data":{"name":"tx"},"mark":{"type":"text","fontSize":36,"align":"center","baseline":"alphabetic","dy":-16,"color":"black"},"encoding":{"text":{"field":"t"}}},
{"data":{"name":"ty"},"mark":{"type":"text","fontSize":36,"align":"right","baseline":"alphabetic","dx":-15,"dy":13,"color":"black"},"encoding":{"text":{"field":"t"}}}
]},
{"width":770,"height":685,
"title":{"text":["Soil moisture","high resolution"],"orient":"right","angle":0,"align":"left","baseline":"middle","anchor":"middle","offset":-406,"fontSize":68,"lineHeight":85,"fontWeight":"normal","dy":-45},
"encoding":{"x":{"field":"lon","type":"quantitative","axis":null,"scale":{"domain":[144.302,152.848],"nice":false,"zero":false}},"y":{"field":"lat","type":"quantitative","axis":null,"scale":{"domain":[-28.342,-21.402],"nice":false,"zero":false}}},
"layer":[
{"data":{"name":"cells"},"mark":{"type":"rect","width":23.5,"height":25.5},"encoding":{"color":{"field":"b","type":"quantitative","legend":null,"scale":{"domain":[0,6.25,18.75,31.25,43.75,50],"range":["#800000","#ff0000","#ffff00","#00ffff","#0000ff","#000080"]}}}},
{"data":{"name":"gv"},"mark":{"type":"rule","color":"black","strokeWidth":2.5,"strokeDash":[5,13]},"encoding":{"y2":{"field":"lat2"}}},
{"data":{"name":"gh"},"mark":{"type":"rule","color":"black","strokeWidth":2.5,"strokeDash":[5,13]},"encoding":{"x2":{"field":"lon2"}}},
{"data":{"name":"coast"},"mark":{"type":"line","color":"black","strokeWidth":3.5},"encoding":{"order":{"field":"lon"}}},
{"data":{"name":"tx"},"mark":{"type":"text","fontSize":36,"align":"center","baseline":"alphabetic","dy":-16,"color":"black"},"encoding":{"text":{"field":"t"}}},
{"data":{"name":"ty"},"mark":{"type":"text","fontSize":36,"align":"right","baseline":"alphabetic","dx":-15,"dy":13,"color":"black"},"encoding":{"text":{"field":"t"}}}
]}
],"spacing":46,"bounds":"flush"},
{"hconcat":[
{"width":770,"height":685,
"title":{"text":["Precipitation","mask"],"orient":"left","angle":0,"align":"left","baseline":"middle","anchor":"middle","offset":118,"fontSize":68,"lineHeight":85,"fontWeight":"normal","dy":-39},
"encoding":{"x":{"field":"lon","type":"quantitative","axis":null,"scale":{"domain":[144.302,152.848],"nice":false,"zero":false}},"y":{"field":"lat","type":"quantitative","axis":null,"scale":{"domain":[-28.342,-21.402],"nice":false,"zero":false}}},
"layer":[
{"data":{"name":"cells"},"transform":[{"filter":"datum.m===1"}],"mark":{"type":"rect","width":23.5,"height":25.5,"color":"#00008b"}},
{"data":{"name":"gv"},"mark":{"type":"rule","color":"black","strokeWidth":2.5,"strokeDash":[5,13]},"encoding":{"y2":{"field":"lat2"}}},
{"data":{"name":"gh"},"mark":{"type":"rule","color":"black","strokeWidth":2.5,"strokeDash":[5,13]},"encoding":{"x2":{"field":"lon2"}}},
{"data":{"name":"coast"},"mark":{"type":"line","color":"black","strokeWidth":3.5},"encoding":{"order":{"field":"lon"}}},
{"data":{"name":"tx"},"mark":{"type":"text","fontSize":36,"align":"center","baseline":"alphabetic","dy":-16,"color":"black"},"encoding":{"text":{"field":"t"}}},
{"data":{"name":"ty"},"mark":{"type":"text","fontSize":36,"align":"right","baseline":"alphabetic","dx":-15,"dy":13,"color":"black"},"encoding":{"text":{"field":"t"}}}
]},
{"width":770,"height":685,
"title":{"text":["Soil moisture","high resolution","masked"],"orient":"right","angle":0,"align":"left","baseline":"middle","anchor":"middle","offset":-406,"fontSize":68,"lineHeight":85,"fontWeight":"normal","dy":-81},
"encoding":{"x":{"field":"lon","type":"quantitative","axis":null,"scale":{"domain":[144.302,152.848],"nice":false,"zero":false}},"y":{"field":"lat","type":"quantitative","axis":null,"scale":{"domain":[-28.342,-21.402],"nice":false,"zero":false}}},
"layer":[
{"data":{"name":"cells"},"transform":[{"filter":"datum.m!==1"}],"mark":{"type":"rect","width":23.5,"height":25.5},"encoding":{"color":{"field":"b","type":"quantitative","legend":null,"scale":{"domain":[0,6.25,18.75,31.25,43.75,50],"range":["#800000","#ff0000","#ffff00","#00ffff","#0000ff","#000080"]}}}},
{"data":{"name":"gv"},"mark":{"type":"rule","color":"black","strokeWidth":2.5,"strokeDash":[5,13]},"encoding":{"y2":{"field":"lat2"}}},
{"data":{"name":"gh"},"mark":{"type":"rule","color":"black","strokeWidth":2.5,"strokeDash":[5,13]},"encoding":{"x2":{"field":"lon2"}}},
{"data":{"name":"coast"},"mark":{"type":"line","color":"black","strokeWidth":3.5},"encoding":{"order":{"field":"lon"}}},
{"data":{"name":"tx"},"mark":{"type":"text","fontSize":36,"align":"center","baseline":"alphabetic","dy":-16,"color":"black"},"encoding":{"text":{"field":"t"}}},
{"data":{"name":"ty"},"mark":{"type":"text","fontSize":36,"align":"right","baseline":"alphabetic","dx":-15,"dy":13,"color":"black"},"encoding":{"text":{"field":"t"}}}
]}
],"spacing":46,"bounds":"flush"},
{"width":1262,"height":48,"view":{"stroke":null},
"encoding":{"y":{"datum":44,"type":"quantitative","axis":null,"scale":{"domain":[0,48],"nice":false,"zero":false}},"y2":{"datum":0}},
"layer":[
{"data":{"name":"bar"},"mark":{"type":"rect"},"encoding":{"x":{"field":"v","type":"quantitative","scale":{"domain":[-15.87,50],"nice":false,"zero":false},"axis":{"orient":"bottom","title":null,"values":[0,10,20,30,40,50],"domain":false,"grid":false,"zindex":1,"tickSize":-9,"tickColor":"black","tickWidth":1.5,"labelFontSize":44,"labelPadding":21,"labelColor":"black","labelFlush":false}},"x2":{"field":"w"},"color":{"field":"v","type":"quantitative","legend":null,"scale":{"domain":[0,6.25,18.75,31.25,43.75,50],"range":["#800000","#ff0000","#ffff00","#00ffff","#0000ff","#000080"]}}}},
{"data":{"values":[{"v":-1,"w":50}]},"mark":{"type":"rect","fill":null,"stroke":"#555555","strokeWidth":2},"encoding":{"x":{"field":"v","type":"quantitative","scale":{"domain":[-15.87,50],"nice":false,"zero":false},"axis":{"orient":"top","title":null,"values":[10,20,30,40],"domain":false,"grid":false,"zindex":1,"labels":false,"tickSize":-13,"tickColor":"black","tickWidth":1.5}},"x2":{"field":"w"}}}
],
"resolve":{"axis":{"x":"independent"}}}
]
}
